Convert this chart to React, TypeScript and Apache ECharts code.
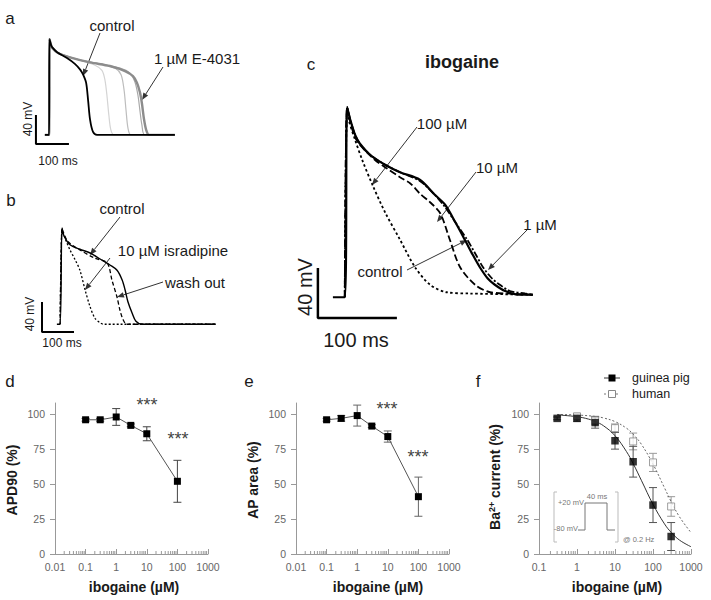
import React, { useEffect, useRef } from "react";
import * as echarts from "echarts";

// ---------- panel a: action potentials (t in ms, V in mV) ----------
const aControl = [[45,-85],[58,-85],[59,47],[64,39],[67,36],[82,29],[112,21],[136,13],[152,5],[161,-2],[170,-13],[176,-37],[182,-64],[191,-81],[203,-85],[439,-85]];
const aE4031 = [[45,-85],[58,-85],[59,47],[64,39],[67,35],[85,28],[121,22],[182,15],[242,10],[288,3],[312,-4],[324,-13],[333,-26],[339,-41],[345,-62],[352,-78],[361,-85],[439,-85]];
const aStep1 = [[58,-85],[59,47],[64,39],[67,36],[82,29],[152,18],[197,11],[218,4],[227,-9],[233,-30],[239,-58],[245,-78],[255,-85],[439,-85]];
const aStep2 = [[58,-85],[59,47],[64,39],[67,36],[82,29],[152,18],[212,13],[258,7],[276,-2],[285,-23],[291,-51],[297,-76],[306,-85],[439,-85]];
const aStep3 = [[58,-85],[59,47],[64,39],[67,36],[82,29],[152,18],[212,13],[273,7],[303,0],[318,-12],[327,-30],[333,-51],[339,-71],[348,-85],[439,-85]];
const aScaleBar = [[18,-57.6],[18,-97.6],[118,-97.6]];

// ---------- panel b ----------
const bControl = [[84,-85],[94,-85],[100,43],[106,33],[125,21],[156,15],[188,10],[219,2],[250,-6],[272,-13],[288,-26],[297,-39],[306,-55],[319,-70],[331,-81],[350,-85],[580,-85]];
const bIsradipine = [[94,-85],[100,43],[103,38],[112,27],[125,14],[141,1],[156,-13],[172,-39],[188,-62],[203,-77],[219,-83],[231,-85],[580,-85]];
const bWashOut = [[94,-85],[100,43],[103,39],[119,25],[156,14],[203,3],[241,-3],[256,-26],[272,-49],[281,-66],[291,-79],[303,-85],[580,-85]];
const bScaleBar = [[37.5,-55.3],[37.5,-95.3],[137.5,-95.3]];

// ---------- panel c ----------
const cControl = [[29,-87],[44,-87],[47,65],[51,55],[57,43],[63,36],[76,27],[95,19],[114,13],[139,7],[158,-5],[171,-13],[184,-27],[196,-41],[206,-53],[215,-63],[225,-72],[234,-77],[247,-82],[266,-85],[282,-85]];
const c1uM = [[44,-87],[47,65],[51,55],[57,43],[63,36],[76,27],[95,19],[114,13],[139,6],[158,-5],[171,-15],[185,-28],[199,-41],[210,-53],[219,-63],[229,-71],[238,-76],[253,-82],[272,-84],[282,-85]];
const c10uM = [[44,-87],[47,65],[51,53],[57,41],[63,35],[82,23],[95,17],[114,9],[127,4],[139,-4],[152,-11],[165,-20],[177,-41],[190,-63],[209,-77],[228,-83],[253,-84],[282,-85]];
const c100uM = [[44,-87],[47,65],[49,55],[57,39],[66,23],[79,3],[95,-19],[114,-41],[133,-63],[152,-77],[173,-83],[203,-84],[282,-85]];
const cScaleBar = [[10,-63.6],[10,-103.6],[110,-103.6]];

// ---------- panel d ----------
const ibogaineDE = [0.1, 0.3, 1, 3, 10, 100];
const apd90 = [96, 96, 98, 92, 86, 52];
const apd90Err = [1, 1, 6, 1, 5, 15];

// ---------- panel e ----------
const apArea = [96, 97, 99, 91.5, 84, 41];
const apAreaErr = [1, 2, 7.5, 1, 4, 14];

// ---------- panel f ----------
const gpConc = [0.3, 1, 3, 10, 30, 100, 300];
const gpCurrent = [97, 97, 94, 81, 66, 35, 12.5];
const gpErr = [1, 2, 4, 6, 11, 12.5, 10];
const humanConc = [1, 3, 10, 30, 100, 300];
const humanCurrent = [98.5, 95.5, 90, 80.5, 65.5, 34];
const humanErr = [2, 3, 3, 6, 6.5, 7];
const gpFitConc = [0.3, 1, 2, 3, 5, 10, 20, 30, 50, 100, 200, 300, 500, 1000];
const gpFit = [99.5, 98.2, 96.5, 94.8, 91.7, 84.6, 73.3, 64.7, 52.4, 35.5, 21.6, 15.5, 9.9, 5.2];
const humanFitConc = [0.3, 1, 3, 5, 10, 20, 30, 50, 100, 200, 300, 500, 1000];
const humanFit = [99.8, 99.4, 98.4, 97.3, 94.7, 90, 85.7, 78.3, 64.3, 47.4, 37.5, 26.5, 15.3];

// axis ticks
const yTicks = [0, 25, 50, 75, 100];
const minorMult = [2, 3, 4, 5, 6, 7, 8, 9];
const decadesDE = [0.01, 0.1, 1, 10, 100];
const decadesF = [0.1, 1, 10, 100];

const FONT = "'Liberation Sans', Arial, Helvetica, sans-serif";
const INK = "#1a1a1a";

function txt(x: number, y: number, text: string, o: any = {}) {
  return {
    type: "text", x, y, rotation: o.rot || 0, silent: true,
    style: {
      text, fontSize: o.size || 15, fontFamily: FONT, fontWeight: o.bold ? "bold" : "normal",
      fill: o.color || INK, align: o.align || "center", verticalAlign: "middle", rich: o.rich,
    },
  };
}

function arrow(x1: number, y1: number, x2: number, y2: number) {
  const a = Math.atan2(y2 - y1, x2 - x1);
  const L = 7, W = 2.8;
  const bx = x2 - L * Math.cos(a), by = y2 - L * Math.sin(a);
  const s = Math.sin(a), c = Math.cos(a);
  return [
    { type: "line", silent: true, shape: { x1, y1, x2: bx, y2: by }, style: { stroke: "#333", lineWidth: 1 } },
    { type: "polygon", silent: true, shape: { points: [[x2, y2], [bx + W * s, by - W * c], [bx - W * s, by + W * c]] }, style: { fill: "#333" } },
  ];
}

function trace(idx: number, data: number[][], color: string, width: number, type: any = "solid", z = 2) {
  return {
    type: "line", xAxisIndex: idx, yAxisIndex: idx, data, symbol: "none", showSymbol: false,
    smooth: 0.3, lineStyle: { color, width, type }, z, silent: true,
  };
}

function errorSeries(idx: number, xs: number[], ys: number[], es: number[], color: string) {
  return {
    type: "custom", xAxisIndex: idx, yAxisIndex: idx, silent: true, z: 1,
    data: xs.map((x, i) => [x, ys[i], es[i]]),
    renderItem: (_p: any, api: any) => {
      const x = api.value(0), y = api.value(1), e = api.value(2);
      const t = api.coord([x, y + e]);
      const b = api.coord([x, y - e]);
      const w = 4;
      const st = { stroke: color, lineWidth: 1 };
      return {
        type: "group",
        children: [
          { type: "line", shape: { x1: t[0], y1: t[1], x2: b[0], y2: b[1] }, style: st },
          { type: "line", shape: { x1: t[0] - w, y1: t[1], x2: t[0] + w, y2: t[1] }, style: st },
          { type: "line", shape: { x1: b[0] - w, y1: b[1], x2: b[0] + w, y2: b[1] }, style: st },
        ],
      };
    },
  };
}

function minorTickSeries(idx: number, decades: number[]) {
  const vals: number[] = [];
  decades.forEach((d) => minorMult.forEach((m) => vals.push(+(d * m).toPrecision(3))));
  return {
    type: "custom", xAxisIndex: idx, yAxisIndex: idx, silent: true, z: 1,
    data: vals.map((v) => [v, 0]),
    renderItem: (_p: any, api: any) => {
      const c = api.coord([api.value(0), 0]);
      return { type: "line", shape: { x1: c[0], y1: c[1], x2: c[0], y2: c[1] - 3 }, style: { stroke: "#999", lineWidth: 1 } };
    },
  };
}

const hiddenX = (gridIndex: number, max: number) => ({ gridIndex, type: "value", min: 0, max, show: false });
const hiddenY = (gridIndex: number, min: number, max: number) => ({ gridIndex, type: "value", min, max, show: false });

const logX = (gridIndex: number, min: number) => ({
  gridIndex, type: "log", logBase: 10, min, max: 1000,
  axisLine: { show: true, onZero: false, lineStyle: { color: "#999", width: 1 } },
  axisTick: { show: true, inside: true, length: 5, lineStyle: { color: "#999" } },
  axisLabel: { show: true, color: "#666", fontSize: 10.5, fontFamily: FONT, margin: 7, formatter: (v: number) => String(+Number(v).toPrecision(3)) },
  splitLine: { show: false },
});
const pctY = (gridIndex: number) => ({
  gridIndex, type: "value", min: 0, max: 108,
  axisLine: { show: true, lineStyle: { color: "#999", width: 1 } },
  axisTick: { show: true, length: 5, customValues: yTicks, lineStyle: { color: "#999" } },
  axisLabel: { show: true, customValues: yTicks, color: "#666", fontSize: 10.5, fontFamily: FONT, margin: 10 },
  splitLine: { show: false },
});

export default function App() {
  const ref = useRef<HTMLDivElement>(null);
  useEffect(() => {
    if (!ref.current) return;
    const chart = echarts.init(ref.current, undefined, { renderer: "svg" });
    const g = (o: any) => ({ ...o, containLabel: false, outerBoundsMode: "none" });
    const graphics: any[] = [
      // panel letters
      txt(10, 18, "a", { size: 17 }),
      txt(11, 200, "b", { size: 17 }),
      txt(311, 64, "c", { size: 17 }),
      txt(10, 381, "d", { size: 17 }),
      txt(249, 381, "e", { size: 17 }),
      txt(478, 381, "f", { size: 17 }),
      // panel a
      txt(112, 25, "control"),
      txt(197, 58, "1 µM E-4031"),
      txt(28, 119, "40 mV", { size: 12, rot: Math.PI / 2 }),
      txt(58, 161, "100 ms", { size: 12 }),
      ...arrow(100, 33, 83, 76),
      ...arrow(163, 67, 142, 100),
      // panel b
      txt(122, 208, "control"),
      txt(173, 250, "10 µM isradipine"),
      txt(195, 282, "wash out"),
      txt(30, 314, "40 mV", { size: 12, rot: Math.PI / 2 }),
      txt(62, 343, "100 ms", { size: 12 }),
      ...arrow(120, 217, 90, 255),
      ...arrow(110, 258, 85, 290),
      ...arrow(163, 282, 117, 297),
      // panel c
      txt(462, 62, "ibogaine", { size: 18, bold: true }),
      txt(442, 123, "100 µM"),
      txt(497, 167, "10 µM"),
      txt(540, 224, "1 µM"),
      txt(380, 271, "control"),
      txt(305, 287, "40 mV", { size: 20, rot: Math.PI / 2 }),
      txt(356, 340, "100 ms", { size: 20 }),
      ...arrow(417, 127, 372, 185),
      ...arrow(476, 172, 437, 222),
      ...arrow(527, 230, 488, 270),
      ...arrow(407, 270, 467, 240),
      // axis names
      txt(12, 480, "APD90 (%)", { size: 14, bold: true, rot: Math.PI / 2 }),
      txt(253, 480, "AP area (%)", { size: 14, bold: true, rot: Math.PI / 2 }),
      txt(495, 477, "Ba{sup|2+} current (%)", {
        size: 14, bold: true, rot: Math.PI / 2,
        rich: { sup: { fontSize: 9, fontWeight: "bold", fontFamily: FONT, fill: INK, verticalAlign: "top", padding: [0, 0, 7, 0] } },
      }),
      txt(134, 587, "ibogaine (µM)", { size: 14, bold: true }),
      txt(378, 587, "ibogaine (µM)", { size: 14, bold: true }),
      txt(617, 587, "ibogaine (µM)", { size: 14, bold: true }),
      // significance stars
      txt(147, 405, "***", { size: 18, color: "#444" }),
      txt(178, 439, "***", { size: 18, color: "#444" }),
      txt(387, 409, "***", { size: 18, color: "#444" }),
      txt(418, 457, "***", { size: 18, color: "#444" }),
      // legend f
      { type: "line", silent: true, shape: { x1: 604, y1: 378, x2: 620, y2: 378 }, style: { stroke: "#333", lineWidth: 1 } },
      { type: "rect", silent: true, shape: { x: 608.5, y: 374.5, width: 7, height: 7 }, style: { fill: "#000" } },
      txt(632, 378, "guinea pig", { size: 12.5, align: "left" }),
      { type: "line", silent: true, shape: { x1: 604, y1: 394, x2: 620, y2: 394 }, style: { stroke: "#777", lineWidth: 1, lineDash: [2, 2] } },
      { type: "rect", silent: true, shape: { x: 608.5, y: 390.5, width: 7, height: 7 }, style: { fill: "#fff", stroke: "#888", lineWidth: 1 } },
      txt(632, 394, "human", { size: 12.5, align: "left" }),
      // inset protocol in f
      { type: "polyline", silent: true, shape: { points: [[557, 492], [554, 492], [554, 542], [557, 542]] }, style: { stroke: "#bbb", lineWidth: 1, fill: "none" } },
      { type: "polyline", silent: true, shape: { points: [[615, 492], [618, 492], [618, 542], [615, 542]] }, style: { stroke: "#bbb", lineWidth: 1, fill: "none" } },
      { type: "polyline", silent: true, shape: { points: [[578, 530], [585, 530], [585, 503], [607, 503], [607, 530], [615, 530]] }, style: { stroke: "#777", lineWidth: 1, fill: "none" } },
      txt(584, 502, "+20 mV", { size: 7.5, align: "right", color: "#777" }),
      txt(578, 528, "-80 mV", { size: 7.5, align: "right", color: "#777" }),
      txt(597, 496, "40 ms", { size: 7.5, color: "#777" }),
      txt(623, 539, "@ 0.2 Hz", { size: 7.5, align: "left", color: "#777" }),
    ];

    const option: any = {
      animation: false,
      backgroundColor: "#fff",
      textStyle: { fontFamily: FONT },
      grid: [
        g({ left: 30, top: 37, width: 165, height: 116 }),
        g({ left: 30, top: 223, width: 224, height: 120 }),
        g({ left: 310, top: 101, width: 237, height: 225 }),
        g({ left: 55, top: 403, width: 153, height: 151 }),
        g({ left: 296, top: 403, width: 153, height: 151 }),
        g({ left: 539, top: 403, width: 152, height: 151 }),
      ],
      xAxis: [hiddenX(0, 500), hiddenX(1, 700), hiddenX(2, 300), logX(3, 0.01), logX(4, 0.01), logX(5, 0.1)],
      yAxis: [hiddenY(0, -110, 50), hiddenY(1, -110, 50), hiddenY(2, -110, 70), pctY(3), pctY(4), pctY(5)],
      series: [
        // a
        trace(0, aStep1, "#d4d4d4", 1.2),
        trace(0, aStep2, "#bdbdbd", 1.2),
        trace(0, aStep3, "#a8a8a8", 1.2),
        trace(0, aE4031, "#8c8c8c", 2.4, "solid", 3),
        trace(0, aControl, "#000", 1.8, "solid", 4),
        { type: "line", xAxisIndex: 0, yAxisIndex: 0, data: aScaleBar, symbol: "none", lineStyle: { color: "#000", width: 2 }, silent: true },
        // b
        trace(1, bIsradipine, "#000", 1.3, [2, 2]),
        trace(1, bWashOut, "#000", 1.3, [4, 2.5]),
        trace(1, bControl, "#000", 1.4),
        { type: "line", xAxisIndex: 1, yAxisIndex: 1, data: bScaleBar, symbol: "none", lineStyle: { color: "#000", width: 2 }, silent: true },
        // c
        trace(2, c100uM, "#000", 1.8, [2.5, 2.5]),
        trace(2, c10uM, "#000", 1.8, [7, 3]),
        trace(2, c1uM, "#000", 1.8, [7, 2, 2, 2]),
        trace(2, cControl, "#000", 2.2),
        { type: "line", xAxisIndex: 2, yAxisIndex: 2, data: cScaleBar, symbol: "none", lineStyle: { color: "#000", width: 2.5 }, silent: true },
        // d
        minorTickSeries(3, decadesDE),
        errorSeries(3, ibogaineDE, apd90, apd90Err, "#444"),
        {
          type: "line", xAxisIndex: 3, yAxisIndex: 3, data: ibogaineDE.map((x, i) => [x, apd90[i]]),
          symbol: "rect", symbolSize: 7, itemStyle: { color: "#000" }, lineStyle: { color: "#555", width: 1 }, z: 3, silent: true,
        },
        // e
        minorTickSeries(4, decadesDE),
        errorSeries(4, ibogaineDE, apArea, apAreaErr, "#666"),
        {
          type: "line", xAxisIndex: 4, yAxisIndex: 4, data: ibogaineDE.map((x, i) => [x, apArea[i]]),
          symbol: "rect", symbolSize: 7, itemStyle: { color: "#000" }, lineStyle: { color: "#555", width: 1 }, z: 3, silent: true,
        },
        // f
        minorTickSeries(5, decadesF),
        {
          type: "line", xAxisIndex: 5, yAxisIndex: 5, data: humanFitConc.map((x, i) => [x, humanFit[i]]),
          symbol: "none", smooth: 0.4, lineStyle: { color: "#666", width: 1, type: [2, 2] }, z: 2, silent: true,
        },
        {
          type: "line", xAxisIndex: 5, yAxisIndex: 5, data: gpFitConc.map((x, i) => [x, gpFit[i]]),
          symbol: "none", smooth: 0.4, lineStyle: { color: "#333", width: 1 }, z: 2, silent: true,
        },
        errorSeries(5, humanConc, humanCurrent, humanErr, "#999"),
        {
          type: "scatter", xAxisIndex: 5, yAxisIndex: 5, data: humanConc.map((x, i) => [x, humanCurrent[i]]),
          symbol: "rect", symbolSize: 7, itemStyle: { color: "#fff", borderColor: "#888", borderWidth: 1 }, z: 3, silent: true,
        },
        errorSeries(5, gpConc, gpCurrent, gpErr, "#555"),
        {
          type: "scatter", xAxisIndex: 5, yAxisIndex: 5, data: gpConc.map((x, i) => [x, gpCurrent[i]]),
          symbol: "rect", symbolSize: 7.5, itemStyle: { color: "#000" }, z: 4, silent: true,
        },
      ],
      graphic: graphics,
    };
    chart.setOption(option);
    return () => chart.dispose();
  }, []);
  return (
    <div
      ref={ref}
      style={{ position: "fixed", left: 0, top: 0, width: 711, height: 600, background: "#fff" }}
    />
  );
}
